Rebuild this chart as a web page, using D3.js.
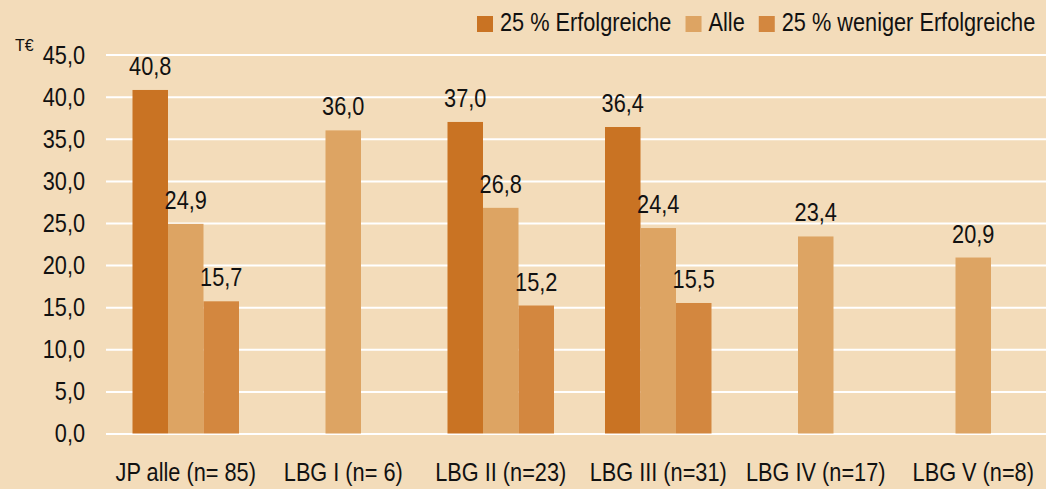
<!DOCTYPE html>
<html>
<head>
<meta charset="utf-8">
<script src="https://cdn.jsdelivr.net/npm/d3@7"></script>
<style>
  body { margin: 0; background: #F3DCBA; }
  svg { display: block; }
  text { font-family: "Liberation Sans", Arial, sans-serif; fill: #111; }
</style>
</head>
<body>
<div class="chart"></div>
<script>

// Chart data
var categories = ["JP alle (n= 85)", "LBG I (n= 6)", "LBG II (n=23)", "LBG III (n=31)", "LBG IV (n=17)", "LBG V (n=8)"];
var seriesNames = ["25 % Erfolgreiche", "Alle", "25 % weniger Erfolgreiche"];
var topValues = [40.8, null, 37.0, 36.4, null, null];
var allValues = [24.9, 36.0, 26.8, 24.4, 23.4, 20.9];
var lowValues = [15.7, null, 15.2, 15.5, null, null];
var yTicks = [0, 5, 10, 15, 20, 25, 30, 35, 40, 45];
var colors = ["#C97323", "#DDA463", "#D3873F"];

var width = 1046, height = 489;
var fontSize = 26.5;

// squeeze text horizontally to mimic a narrow font
function narrow(sel) {
    sel.each(function() {
        var t = d3.select(this);
        var tx = +t.attr("x") || 0, ty = +t.attr("y") || 0;
        t.attr("x", 0)
          .attr("y", 0)
          .attr("transform", "translate(" + tx + "," + ty + ") scale(0.82,1)");
    });
}

var fmt = function(d) { return d3.format(".1f")(d).replace(".", ","); };

var svg = d3.select(".chart")
  .append("svg")
    .attr("width", width)
    .attr("height", height);

svg.append("rect")
    .attr("width", width)
    .attr("height", height)
    .attr("fill", "#F3DCBA");

// Scales
var x0 = d3.scaleBand()
  .domain(categories)
  .range([107, 1052]);

var x1 = d3.scaleBand()
  .domain(seriesNames)
  .range([25.5, 132]);

var y = d3.scaleLinear()
  .domain([0, 45])
  .range([433.5, 54.6]);

// Gridlines + y labels
var yAxis = d3.axisLeft(y)
  .tickValues(yTicks)
  .tickSize(-(width - 106))
  .tickPadding(21)
  .tickFormat(fmt);

var gy = svg.append("g")
  .attr("transform", "translate(106,0)")
  .call(yAxis);

gy.select(".domain").remove();
gy.selectAll("line")
  .attr("stroke", "#fff")
  .attr("stroke-width", 2);
gy.selectAll("text")
  .attr("font-family", null)
  .attr("font-size", fontSize)
  .attr("fill", "#111")
  .call(narrow);

svg.append("text")
  .attr("x", 15)
  .attr("y", 51)
  .attr("font-size", 16)
  .text("T€");

// Build rows for the bars
var table = categories.map(function(c, i) {
    return { cat: c, values: [topValues[i], allValues[i], lowValues[i]] };
});

var groups = svg.selectAll(".group")
  .data(table)
  .enter()
  .append("g")
    .attr("class", "group")
    .attr("transform", function(d) { return "translate(" + x0(d.cat) + ",0)"; });

var bars = groups.selectAll(".bar")
  .data(function(d) {
      return d.values.map(function(v, j) { return { name: seriesNames[j], value: v, idx: j }; })
        .filter(function(e) { return e.value != null; });
  })
  .enter();

bars.append("rect")
  .attr("x", function(d) { return x1(d.name); })
  .attr("y", function(d) { return y(d.value); })
  .attr("width", x1.bandwidth())
  .attr("height", function(d) { return y(0) - y(d.value); })
  .attr("fill", function(d) { return colors[d.idx]; });

bars.append("text")
  .attr("x", function(d) { return x1(d.name) + x1.bandwidth() / 2; })
  .attr("y", function(d) { return y(d.value) - 15; })
  .attr("text-anchor", "middle")
  .attr("font-size", fontSize)
  .text(function(d) { return fmt(d.value); })
  .call(narrow);

// Category labels
svg.selectAll(".cat")
  .data(categories)
  .enter()
  .append("text")
    .attr("class", "cat")
    .attr("x", function(d) { return x0(d) + x0.bandwidth() / 2; })
    .attr("y", 481)
    .attr("text-anchor", "middle")
    .attr("font-size", fontSize)
    .text(function(d) { return d; })
    .call(narrow);

// Legend
var lx = 477;
seriesNames.forEach(function(name, i) {
    svg.append("rect")
      .attr("x", lx)
      .attr("y", 16)
      .attr("width", 16)
      .attr("height", 16)
      .attr("fill", colors[i]);
    var t = svg.append("text")
      .attr("x", lx + 23)
      .attr("y", 31)
      .attr("font-size", fontSize)
      .text(name);
    var len = t.node().getComputedTextLength() * 0.82;
    t.call(narrow);
    lx = lx + 23 + len + 14;
});

</script>
</body>
</html>
